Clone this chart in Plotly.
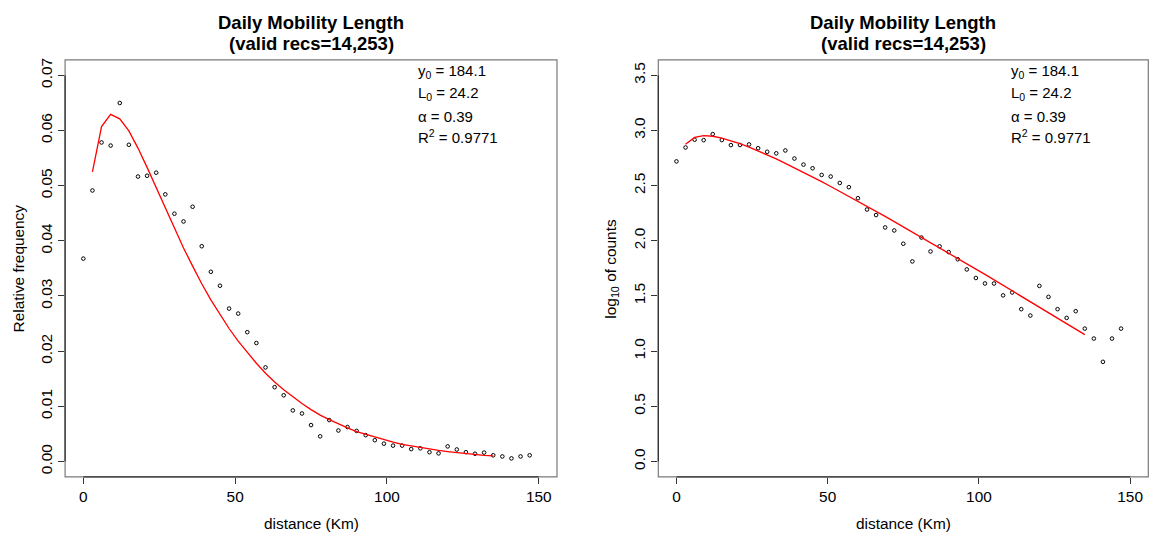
import plotly.graph_objects as go
import numpy as np

# ---------------- data ----------------
total_recs = 14253
distance = list(range(0, 148, 3))  # 0,3,...,147 km bins
counts = [524, 700, 824, 816, 926, 818, 736, 738, 746, 690,
          640, 620, 658, 556, 490, 454, 395, 382, 334, 306,
          243, 192, 171, 132, 124, 94, 65, 107, 80, 89,
          79, 68, 55, 46, 41, 41, 32, 34, 24, 21,
          39, 31, 24, 20, 23, 16, 13, 8, 13, 16]

fit_distance = list(range(3, 136, 3))  # 3,...,135 km
fit_freq = [0.0525, 0.0607, 0.0629, 0.0621, 0.0599, 0.0568, 0.0533, 0.0496, 0.0459, 0.0422,
            0.0387, 0.0354, 0.0322, 0.0293, 0.0266, 0.0241, 0.0218, 0.0197, 0.0178, 0.0160,
            0.0144, 0.0130, 0.0117, 0.0105, 0.0094, 0.0084, 0.0076, 0.0068, 0.0061, 0.0054,
            0.0049, 0.0044, 0.0039, 0.0035, 0.0031, 0.0028, 0.0025, 0.0022, 0.0020, 0.0018,
            0.0016, 0.0014, 0.0013, 0.0011, 0.0010]
fit_log = [2.874, 2.937, 2.952, 2.947, 2.931, 2.908, 2.880, 2.849, 2.815, 2.779,
           2.742, 2.702, 2.662, 2.621, 2.579, 2.536, 2.492, 2.448, 2.404, 2.358,
           2.313, 2.267, 2.221, 2.174, 2.127, 2.080, 2.032, 1.985, 1.937, 1.889,
           1.840, 1.792, 1.743, 1.695, 1.646, 1.597, 1.547, 1.498, 1.449, 1.399,
           1.349, 1.300, 1.250, 1.200, 1.150]

x_ticks = [0, 50, 100, 150]
y_ticks_left = [0.00, 0.01, 0.02, 0.03, 0.04, 0.05, 0.06, 0.07]
y_ticks_right = [0.0, 0.5, 1.0, 1.5, 2.0, 2.5, 3.0, 3.5]

title_text = "Daily Mobility Length"
subtitle_text = "(valid recs=14,253)"
stats_lines = ["y<sub>0</sub> = 184.1", "L<sub>0</sub> = 24.2", "\u03b1 = 0.39", "R<sup>2</sup> = 0.9771"]

rel_freq = [c / total_recs for c in counts]
log_counts = [float(np.log10(c)) for c in counts]

# ---------------- layout geometry ----------------
W, H = 1150, 540
FONT = "Liberation Sans, Arial, Helvetica, sans-serif"
left_dom = [65.1 / W, 557.0 / W]
right_dom = [658.3 / W, 1148.3 / W]
y_dom = [1 - 476.7 / H, 1 - 58.0 / H]

fig = go.Figure()

mk = dict(symbol="circle-open", size=3.6, color="black", line=dict(width=1, color="black"))
fig.add_trace(go.Scatter(x=distance, y=rel_freq, mode="markers", marker=mk,
                         xaxis="x", yaxis="y", showlegend=False))
fig.add_trace(go.Scatter(x=fit_distance, y=fit_freq, mode="lines",
                         line=dict(color="#ff0000", width=1.3),
                         xaxis="x", yaxis="y", showlegend=False))
fig.add_trace(go.Scatter(x=distance, y=log_counts, mode="markers", marker=mk,
                         xaxis="x2", yaxis="y2", showlegend=False))
fig.add_trace(go.Scatter(x=fit_distance, y=fit_log, mode="lines",
                         line=dict(color="#ff0000", width=1.3),
                         xaxis="x2", yaxis="y2", showlegend=False))

axis_common = dict(showgrid=False, zeroline=False, showline=False, ticks="outside",
                   ticklen=6, tickwidth=1, tickcolor="#333333",
                   tickfont=dict(family=FONT, size=15.4, color="black"))

fig.update_layout(
    width=W, height=H, autosize=False,
    margin=dict(l=0, r=0, t=0, b=0),
    paper_bgcolor="white", plot_bgcolor="white",
    xaxis=dict(domain=left_dom, range=[-6, 156], tickvals=x_ticks,
               ticktext=[str(v) for v in x_ticks], anchor="y", **axis_common),
    yaxis=dict(domain=y_dom, range=[-0.0028, 0.0728], tickvals=y_ticks_left,
               ticktext=["%.2f" % v for v in y_ticks_left], tickangle=-90,
               anchor="x", **axis_common),
    xaxis2=dict(domain=right_dom, range=[-6, 156], tickvals=x_ticks,
                ticktext=[str(v) for v in x_ticks], anchor="y2", **axis_common),
    yaxis2=dict(domain=y_dom, range=[-0.14, 3.64], tickvals=y_ticks_right,
                ticktext=["%.1f" % v for v in y_ticks_right], tickangle=-90,
                anchor="x2", **axis_common),
)

shapes = []
for dom, xr, yr, yt in [(left_dom, "x", "y", y_ticks_left), (right_dom, "x2", "y2", y_ticks_right)]:
    # plot box
    shapes.append(dict(type="rect", xref="paper", yref="paper", x0=dom[0], x1=dom[1],
                       y0=y_dom[0], y1=y_dom[1], line=dict(color="#7a7a7a", width=1.2)))
    # axis lines spanning first to last tick (R style)
    shapes.append(dict(type="line", xref=xr, yref="paper", x0=x_ticks[0], x1=x_ticks[-1],
                       y0=y_dom[0], y1=y_dom[0], line=dict(color="#333333", width=1.3)))
    shapes.append(dict(type="line", xref="paper", yref=yr, x0=dom[0], x1=dom[0],
                       y0=yt[0], y1=yt[-1], line=dict(color="#333333", width=1.3)))
fig.update_layout(shapes=shapes)

ann = []
for dom, ylab in [(left_dom, "Relative frequency"), (right_dom, "log<sub>10</sub> of counts")]:
    cx = (dom[0] + dom[1]) / 2
    ann.append(dict(text=title_text, x=cx, y=1 - 21 / H, xref="paper", yref="paper",
                    showarrow=False, xanchor="center", yanchor="middle",
                    font=dict(family=FONT, size=18.5, color="black", weight="bold")))
    ann.append(dict(text=subtitle_text, x=cx, y=1 - 42 / H, xref="paper", yref="paper",
                    showarrow=False, xanchor="center", yanchor="middle",
                    font=dict(family=FONT, size=18.5, color="black", weight="bold")))
    ann.append(dict(text="distance (Km)", x=cx, y=1 - 523 / H, xref="paper", yref="paper",
                    showarrow=False, xanchor="center", yanchor="middle",
                    font=dict(family=FONT, size=15.4, color="black")))
    ann.append(dict(text=ylab, x=dom[0] - 47 / W, y=(y_dom[0] + y_dom[1]) / 2,
                    xref="paper", yref="paper", textangle=-90,
                    showarrow=False, xanchor="center", yanchor="middle",
                    font=dict(family=FONT, size=15.4, color="black")))
    sx = dom[0] + 350.5 / W
    for i, (line, ypx) in enumerate(zip(stats_lines, [70, 92, 114.5, 135.5])):
        ann.append(dict(text=line, x=sx, y=1 - ypx / H, xref="paper", yref="paper",
                        showarrow=False, xanchor="left", yanchor="middle",
                        font=dict(family=FONT, size=15, color="black")))
fig.update_layout(annotations=ann)

fig.write_html("out.html", config={"displayModeBar": False, "staticPlot": True},
               post_script="document.body.style.margin='0px';document.body.style.overflow='hidden';")
